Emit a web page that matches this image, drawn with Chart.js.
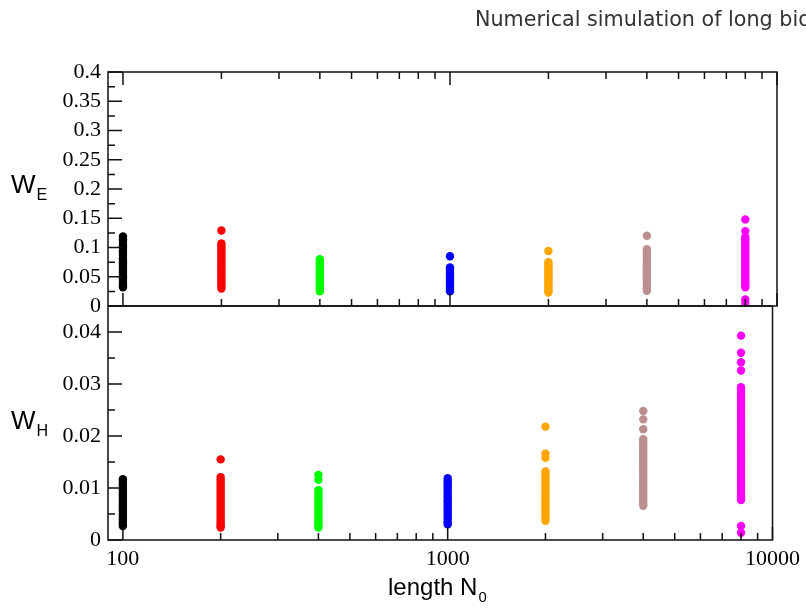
<!DOCTYPE html>
<html>
<head>
<meta charset="utf-8">
<script src="https://cdn.jsdelivr.net/npm/chart.js@4.4.1/dist/chart.umd.min.js"></script>
<style>
  html, body { margin: 0; padding: 0; background: #fff; overflow: hidden; }
  #wrap { position: relative; width: 806px; height: 611px; overflow: hidden; }
  #wrap canvas { position: absolute; left: 0; top: 0; }
  .lbl { position: absolute; white-space: nowrap; font-family: "Liberation Sans", Arial, sans-serif; color: #000; line-height: 1; }
  .lbl sub { font-size: 0.62em; vertical-align: -0.45em; margin-left: 1px; }
  #head { position: absolute; left: 475px; top: 7px; white-space: nowrap; font-family: "DejaVu Sans", sans-serif; font-size: 20.7px; color: #333; }
</style>
</head>
<body>
<div id="wrap">
  <canvas id="panelE" width="806" height="611"></canvas>
  <canvas id="panelH" width="806" height="611"></canvas>
  <div id="head">Numerical simulation of long bio</div>
  <div class="lbl" style="left:11px; top:171px; font-size:26px;">W<sub>E</sub></div>
  <div class="lbl" style="left:11px; top:407px; font-size:26px;">W<sub>H</sub></div>
  <div class="lbl" style="left:388px; top:575px; font-size:24px;">length N<sub>0</sub></div>
</div>

<script>
// chain length N0 of each column
var lengths = [100, 200, 400, 1000, 2000, 4000, 8000];

// W_E values per chain length (top panel)
var wE100  = [0.119, 0.114, 0.111, 0.106, 0.102, 0.099, 0.094, 0.091, 0.087, 0.082, 0.079, 0.075, 0.072, 0.068, 0.064, 0.060, 0.057, 0.053, 0.049, 0.046, 0.042, 0.038, 0.035, 0.032];
var wE200  = [0.129, 0.107, 0.103, 0.099, 0.096, 0.092, 0.088, 0.085, 0.081, 0.077, 0.074, 0.070, 0.066, 0.063, 0.059, 0.055, 0.052, 0.048, 0.044, 0.041, 0.037, 0.034, 0.030];
var wE400  = [0.080, 0.077, 0.073, 0.070, 0.066, 0.063, 0.059, 0.056, 0.052, 0.049, 0.045, 0.042, 0.038, 0.035, 0.031, 0.028, 0.025];
var wE1000 = [0.085, 0.066, 0.063, 0.059, 0.056, 0.052, 0.049, 0.045, 0.042, 0.038, 0.035, 0.031, 0.028, 0.025];
var wE2000 = [0.094, 0.075, 0.071, 0.068, 0.064, 0.061, 0.057, 0.054, 0.050, 0.047, 0.043, 0.040, 0.036, 0.033, 0.029, 0.026, 0.023];
var wE4000 = [0.120, 0.097, 0.093, 0.089, 0.086, 0.082, 0.078, 0.074, 0.071, 0.067, 0.063, 0.060, 0.056, 0.052, 0.048, 0.045, 0.041, 0.037, 0.034, 0.030, 0.026];
var wE8000 = [0.148, 0.128, 0.118, 0.114, 0.110, 0.106, 0.102, 0.098, 0.094, 0.090, 0.086, 0.082, 0.078, 0.074, 0.070, 0.066, 0.062, 0.058, 0.054, 0.050, 0.046, 0.042, 0.038, 0.034, 0.032, 0.011, 0.005];

// W_H values per chain length (bottom panel)
var wH100  = [0.0117, 0.0112, 0.0107, 0.0102, 0.0097, 0.0093, 0.0088, 0.0083, 0.0078, 0.0073, 0.0068, 0.0064, 0.0059, 0.0054, 0.0049, 0.0044, 0.0040, 0.0035, 0.0031, 0.0027];
var wH200  = [0.0155, 0.0121, 0.0116, 0.0111, 0.0106, 0.0101, 0.0096, 0.0091, 0.0086, 0.0081, 0.0076, 0.0071, 0.0066, 0.0061, 0.0056, 0.0051, 0.0046, 0.0041, 0.0036, 0.0031, 0.0027, 0.0024];
var wH400  = [0.0125, 0.0116, 0.0096, 0.0091, 0.0086, 0.0081, 0.0076, 0.0071, 0.0066, 0.0061, 0.0056, 0.0051, 0.0046, 0.0041, 0.0036, 0.0031, 0.0027, 0.0024];
var wH1000 = [0.0119, 0.0114, 0.0109, 0.0104, 0.0099, 0.0094, 0.0089, 0.0084, 0.0079, 0.0074, 0.0069, 0.0064, 0.0059, 0.0054, 0.0049, 0.0044, 0.0039, 0.0034, 0.0030];
var wH2000 = [0.0218, 0.0166, 0.0158, 0.0132, 0.0127, 0.0122, 0.0117, 0.0112, 0.0107, 0.0102, 0.0097, 0.0092, 0.0087, 0.0082, 0.0077, 0.0072, 0.0067, 0.0062, 0.0057, 0.0052, 0.0047, 0.0042, 0.0037];
var wH4000 = [0.0248, 0.0232, 0.0213, 0.0194, 0.0189, 0.0184, 0.0179, 0.0174, 0.0169, 0.0164, 0.0159, 0.0154, 0.0149, 0.0144, 0.0139, 0.0134, 0.0129, 0.0124, 0.0119, 0.0114, 0.0109, 0.0104, 0.0099, 0.0094, 0.0089, 0.0084, 0.0079, 0.0074, 0.0069, 0.0066];
var wH8000 = [0.0393, 0.0360, 0.0342, 0.0326, 0.0294, 0.0289, 0.0284, 0.0279, 0.0274, 0.0269, 0.0264, 0.0259, 0.0254, 0.0249, 0.0244, 0.0239, 0.0234, 0.0229, 0.0224, 0.0219, 0.0214, 0.0209, 0.0204, 0.0199, 0.0194, 0.0189, 0.0184, 0.0179, 0.0174, 0.0169, 0.0164, 0.0159, 0.0154, 0.0149, 0.0144, 0.0139, 0.0134, 0.0129, 0.0124, 0.0119, 0.0114, 0.0109, 0.0104, 0.0099, 0.0094, 0.0089, 0.0084, 0.0079, 0.0077, 0.0027, 0.0014];

// tick values
var xMajor = [100, 1000, 10000];
var xMinor = [200, 300, 400, 500, 600, 700, 800, 900, 2000, 3000, 4000, 5000, 6000, 7000, 8000, 9000];
var yEMajor = [0, 0.05, 0.1, 0.15, 0.2, 0.25, 0.3, 0.35, 0.4];
var yEMinor = [0.025, 0.075, 0.125, 0.175, 0.225, 0.275, 0.325, 0.375];
var yHMajor = [0, 0.01, 0.02, 0.03, 0.04];
var yHMinor = [0.005, 0.015, 0.025, 0.035];

var colors = ['#000000', '#ff0000', '#00ff00', '#0000ff', '#ffa500', '#bc8f8f', '#ff00ff'];
var wE = [wE100, wE200, wE400, wE1000, wE2000, wE4000, wE8000];
var wH = [wH100, wH200, wH400, wH1000, wH2000, wH4000, wH8000];

function makeSets(cols) {
    return lengths.map(function (n, i) {
        return {
            data: cols[i].map(function (v) { return { x: n, y: v }; }),
            backgroundColor: colors[i],
            borderWidth: 0,
            pointRadius: 4.2
        };
    });
}

/* inward tick marks and the box, the way the original plot has them */
var frameTicks = {
    id: 'frameTicks',
    afterDatasetsDraw: function (chart, args, opts) {
        var ctx = chart.ctx, a = chart.chartArea, sx = chart.scales.x, sy = chart.scales.y;
        ctx.save();
        ctx.strokeStyle = '#111';
        ctx.lineWidth = 1.5;
        ctx.beginPath();
        function yt(list, len) {
            list.forEach(function (v) {
                var p = sy.getPixelForValue(v);
                ctx.moveTo(a.left, p); ctx.lineTo(a.left + len, p);
            });
        }
        function xt(list, len) {
            list.forEach(function (v) {
                var p = sx.getPixelForValue(v);
                ctx.moveTo(p, a.bottom); ctx.lineTo(p, a.bottom - len);
                if (opts.top) { ctx.moveTo(p, a.top); ctx.lineTo(p, a.top + len); }
            });
        }
        yt(opts.yMajor, 14); yt(opts.yMinor, 7);
        xt(xMajor, 13); xt(xMinor, 7);
        ctx.stroke();
        ctx.strokeRect(a.left, a.top, a.right - a.left, a.bottom - a.top);
        ctx.restore();
    }
};

function yScale(max, ticks) {
    return {
        type: 'linear', min: 0, max: max,
        grid: { display: false, drawTicks: false },
        border: { display: false },
        afterBuildTicks: function (s) { s.ticks = ticks.map(function (v) { return { value: v }; }); },
        afterFit: function (s) { s.width = 108; },
        ticks: {
            padding: 7, color: '#000', autoSkip: false,
            font: { family: '"Liberation Serif", "Times New Roman", serif', size: 22 },
            callback: function (v) { return String(+v.toFixed(3)); }
        }
    };
}

var common = {
    responsive: false,
    animation: false,
    events: [],
    plugins: { legend: { display: false }, tooltip: { enabled: false } }
};

new Chart(document.getElementById('panelE'), {
    type: 'scatter',
    data: { datasets: makeSets(wE) },
    options: Object.assign({}, common, {
        layout: { padding: { left: 0, right: 29, top: 72, bottom: 305 } },
        scales: {
            x: { type: 'logarithmic', min: 90, max: 10000, display: false },
            y: yScale(0.4, yEMajor)
        },
        plugins: Object.assign({}, common.plugins, {
            frameTicks: { top: true, yMajor: yEMajor, yMinor: yEMinor }
        })
    }),
    plugins: [frameTicks]
});

new Chart(document.getElementById('panelH'), {
    type: 'scatter',
    data: { datasets: makeSets(wH) },
    options: Object.assign({}, common, {
        layout: { padding: { left: 0, right: 29, top: 306, bottom: 0 } },
        scales: {
            x: {
                type: 'logarithmic', min: 90, max: 10000,
                grid: { display: false, drawTicks: false },
                border: { display: false },
                afterBuildTicks: function (s) { s.ticks = xMajor.map(function (v) { return { value: v }; }); },
                afterFit: function (s) { s.height = 71; },
                ticks: {
                    padding: 6, color: '#000', maxRotation: 0, autoSkip: false,
                    font: { family: '"Liberation Serif", "Times New Roman", serif', size: 22 },
                    callback: function (v) { return String(v); }
                }
            },
            y: yScale(0.045, yHMajor)
        },
        plugins: Object.assign({}, common.plugins, {
            frameTicks: { top: false, yMajor: yHMajor, yMinor: yHMinor }
        })
    }),
    plugins: [frameTicks]
});
</script>
</body>
</html>
